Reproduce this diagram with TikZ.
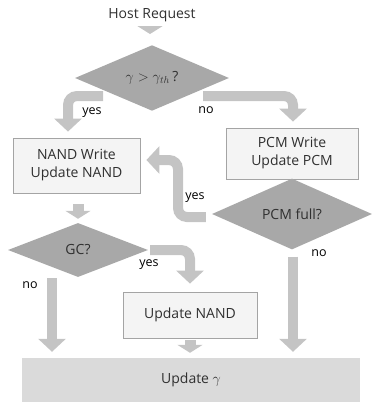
\documentclass[tikz,border=0pt]{standalone}
\usepackage{fontspec}
\setmainfont{Open Sans}
\usetikzlibrary{shapes.geometric,arrows.meta,calc}
\definecolor{arrowgray}{HTML}{C4C4C4}
\definecolor{diagray}{HTML}{A8A8A8}
\definecolor{boxfill}{HTML}{F4F4F4}
\definecolor{boxline}{HTML}{A4A4A4}
\definecolor{updfill}{HTML}{DADADA}
\definecolor{txtgray}{HTML}{303030}
\tikzset{
  dia/.style={diamond, fill=diagray, inner sep=0pt, text=txtgray, font=\fontsize{14}{16}\selectfont},
  boxnode/.style={rectangle, fill=boxfill, draw=boxline, line width=0.8pt, text=txtgray, align=center, inner sep=0pt, font=\fontsize{14}{18}\selectfont},
  bigarrow/.style={draw=arrowgray, line width=10pt, rounded corners=9pt, -{Triangle[length=13pt,width=27pt]}},
  smallarrow/.style={draw=arrowgray, line width=11pt, -{Triangle[length=8pt,width=25pt]}},
  lbl/.style={text=black, font=\fontsize{12.5}{14}\selectfont, inner sep=0pt}
}
\begin{document}
\begin{tikzpicture}[x=1pt,y=-1pt]
\useasboundingbox (0,0) rectangle (372,402);
% nodes
\node[text=txtgray, font=\fontsize{14}{16}\selectfont, inner sep=0pt] (host) at (152,15) {Host Request};
\node[dia, minimum width=154pt, minimum height=47pt] (d1) at (152,78) {$\gamma > \gamma_{th}$\,?};
\node[boxnode, minimum width=127pt, minimum height=55pt] (nand) at (76.5,165.5) {NAND Write\\Update NAND};
\node[boxnode, minimum width=132pt, minimum height=51pt] (pcm) at (292,153.5) {PCM Write\\Update PCM};
\node[dia, minimum width=140pt, minimum height=54pt] (gc) at (78,250) {GC?};
\node[dia, minimum width=160pt, minimum height=58pt] (full) at (292,214) {PCM full?};
\node[boxnode, minimum width=134pt, minimum height=46pt] (upn) at (190,315) {Update NAND};
\node[rectangle, fill=updfill, inner sep=0pt, minimum width=338pt, minimum height=44pt, text=txtgray, font=\fontsize{14}{16}\selectfont] (upg) at (191,380) {Update $\gamma$};
% coordinates
\coordinate (hs) at ($(host.south)+(-2,6)$);
\coordinate (he) at ($(d1.north)+(-2,-11)$);
\coordinate (y1s) at ($(d1.center)+(-49,18)$);
\coordinate (y1e) at ($(nand.north)+(-8.5,-6)$);
\coordinate (n1s) at ($(d1.center)+(51,18)$);
\coordinate (n1e) at ($(pcm.north)+(1,-6)$);
\coordinate (ns) at ($(nand.south)+(1.5,11)$);
\coordinate (ne) at ($(gc.north)+(0,-4)$);
\coordinate (fs) at ($(full.west)+(-6,3)$);
\coordinate (fc) at (178,217);
\coordinate (fd) at (178,160);
\coordinate (fe) at ($(nand.east)+(6,-5.5)$);
\coordinate (gs) at ($(gc.east)+(2,0)$);
\coordinate (ge) at ($(upn.north)+(0,-8)$);
\coordinate (gns) at ($(gc.south)+(-26,1)$);
\coordinate (gne) at ($(upg.north)+(-139,-6)$);
\coordinate (fns) at ($(full.south)+(1,7)$);
\coordinate (fne) at ($(upg.north)+(102,-6)$);
\coordinate (us) at ($(upn.south)+(0,2)$);
\coordinate (ue) at ($(upg.north)+(-1,-5)$);
% connectors
\draw[smallarrow] (hs) -- (he);
\draw[bigarrow] (y1s) -| (y1e);
\draw[bigarrow] (n1s) -| (n1e);
\draw[smallarrow] (ns) -- (ne);
\draw[bigarrow] (fs) -- (fc) -- (fd) -- (fe);
\draw[bigarrow] (gs) -| (ge);
\draw[bigarrow] (gns) -- (gne);
\draw[bigarrow] (fns) -- (fne);
\draw[smallarrow] (us) -- (ue);
% labels
\node[lbl] (l1) at (92,113) {yes};
\node[lbl] (l2) at (206,110) {no};
\node[lbl] (l3) at (195,198) {yes};
\node[lbl] (l4) at (149,265) {yes};
\node[lbl] (l5) at (30,285) {no};
\node[lbl] (l6) at (319,253) {no};
\end{tikzpicture}
\end{document}
